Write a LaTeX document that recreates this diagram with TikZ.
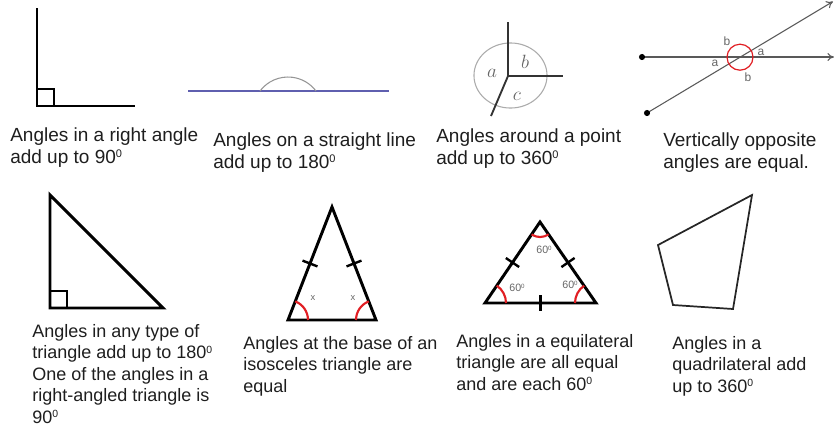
\documentclass[tikz,border=0pt]{standalone}
\usepackage{fontspec}
\setmainfont{Liberation Sans}
\usepackage{xcolor}
\usepackage{tikz}
\usetikzlibrary{arrows.meta,calc}

\definecolor{ink}{RGB}{30,30,30}
\definecolor{lineblue}{RGB}{95,95,175}
\definecolor{arcgray}{RGB}{150,150,150}
\definecolor{angred}{RGB}{225,30,35}

\newcommand{\sdeg}{\raisebox{0.3em}{\scalebox{0.58}{0}}}

\begin{document}
\begin{tikzpicture}[
  x=0.75pt, y=-0.75pt,
  txt/.style={anchor=base west, align=left, inner sep=0pt, text=ink,
              font=\fontsize{14.25}{16.3}\selectfont},
  txt low/.style={txt, font=\fontsize{13.5}{16.1}\selectfont},
  edge/.style={line width=2.2pt, black, line join=miter},
  thin edge/.style={line width=1.3pt, black!85},
  redarc/.style={line width=1.6pt, angred},
  tick/.style={line width=1.8pt, black},
  lbl/.style={inner sep=0pt, text=black!60},
  ray/.style={line width=0.8pt, black!65, -{To[length=5pt,width=6pt]}},
]
\useasboundingbox (0,0) rectangle (834,430);

% right angle
\coordinate (R0) at (37,106);
\coordinate (R1) at (37,8);
\coordinate (R2) at (135,106);
\draw[edge] (R1) -- (R0) -- (R2);
\draw[line width=1.5pt] (37,89) -| (54,106);
\node[txt] (T1) at (10,163) {Angles in a right angle\\add up to 90\sdeg};

% straight line
\coordinate (S1) at (188,91);
\coordinate (S2) at (389,91);
\draw[line width=1.5pt, lineblue] (S1) -- (S2);
\draw[arcgray, line width=0.8pt] (260,91) arc[start angle=143.1, end angle=36.9, radius=26.25pt];
\node[txt] (T2) at (213,168) {Angles on a straight line\\add up to 180\sdeg};

% around a point
\coordinate (P)  at (508,76);
\coordinate (P1) at (508,22);
\coordinate (P2) at (563,76);
\coordinate (P3) at (491,116);
\draw[arcgray!80, line width=0.8pt] (510.5,75.5) ellipse[x radius=27.4pt, y radius=24.4pt];
\draw[line width=1.4pt, black!80] (P1) -- (P) -- (P2);
\draw[line width=1.4pt, black!80] (P) -- (P3);
\node[lbl, font=\rmfamily\fontsize{14}{14}\selectfont] (La) at (492,73) {$a$};
\node[lbl, font=\rmfamily\fontsize{14}{14}\selectfont] (Lb) at (525,62) {$b$};
\node[lbl, font=\rmfamily\fontsize{14}{14}\selectfont] (Lc) at (517,96) {$c$};
\node[txt] (T3) at (436,164) {Angles around a point\\add up to 360\sdeg};

% vertically opposite
\coordinate (H1) at (642,57);
\coordinate (H2) at (834,57);
\coordinate (D1) at (647,113);
\coordinate (D2) at (833,1.5);
\draw[ray] (H1) -- (H2);
\draw[ray] (D1) -- (D2);
\fill (H1) circle[radius=2.3pt];
\fill (D1) circle[radius=2.3pt];
\draw[angred, line width=0.9pt] (740,57.2) circle[radius=9.75pt];
\node[lbl, font=\rmfamily\fontsize{9}{9}\selectfont] (Vb1) at (727,41) {b};
\node[lbl, font=\rmfamily\fontsize{9}{9}\selectfont] (Va1) at (761,52) {a};
\node[lbl, font=\rmfamily\fontsize{9}{9}\selectfont] (Va2) at (715,63) {a};
\node[lbl, font=\rmfamily\fontsize{9}{9}\selectfont] (Vb2) at (748,77) {b};
\node[txt] (T4) at (663,168) {Vertically opposite\\angles are equal.};

% right-angled triangle
\coordinate (A1) at (50,195);
\coordinate (A2) at (50,308);
\coordinate (A3) at (163,308);
\draw[edge] (A1) -- (A2) -- (A3) -- cycle;
\draw[line width=1.5pt] (50,291) -| (67,308);
\node[txt low] (T5) at (32,423) {Angles in any type of\\triangle add up to 180\sdeg\\One of the angles in a\\right-angled triangle is\\90\sdeg};

% isosceles triangle
\coordinate (I1) at (332,207);
\coordinate (I2) at (288,320);
\coordinate (I3) at (376,320);
\draw[edge] (I1) -- (I2) -- (I3) -- cycle;
\draw[tick] ($(I2)!0.5!(I1)!6pt!90:(I1)$) -- ($(I2)!0.5!(I1)!6pt!-90:(I1)$);
\draw[tick] ($(I3)!0.5!(I1)!6pt!90:(I1)$) -- ($(I3)!0.5!(I1)!6pt!-90:(I1)$);
\draw[redarc] ($(I2)+(20,0)$) arc[start angle=0, end angle=68.7, radius=15pt];
\draw[redarc] ($(I3)+(-20,0)$) arc[start angle=180, end angle=111.3, radius=15pt];
\node[lbl, font=\fontsize{7}{7}\selectfont] (X1) at (313,298) {x};
\node[lbl, font=\fontsize{7}{7}\selectfont] (X2) at (353,298) {x};
\node[txt low] (T6) at (243,392) {Angles at the base of an\\isosceles triangle are\\equal};

% equilateral triangle
\coordinate (E1) at (540,222);
\coordinate (E2) at (485,303);
\coordinate (E3) at (596,303);
\draw[edge] (E1) -- (E2) -- (E3) -- cycle;
\draw[tick] ($(E2)!0.5!(E1)!6pt!90:(E1)$) -- ($(E2)!0.5!(E1)!6pt!-90:(E1)$);
\draw[tick] ($(E3)!0.5!(E1)!6pt!90:(E1)$) -- ($(E3)!0.5!(E1)!6pt!-90:(E1)$);
\draw[tick] ($(E2)!0.5!(E3)!6pt!90:(E3)$) -- ($(E2)!0.5!(E3)!6pt!-90:(E3)$);
\draw[redarc] ($(E2)+(21,0)$) arc[start angle=0, end angle=55.8, radius=15.75pt];
\draw[redarc] ($(E3)+(-21,0)$) arc[start angle=180, end angle=124.7, radius=15.75pt];
\draw[redarc] ($(E1)!11.25pt!(E2)$) arc[start angle=235.8, end angle=304.7, radius=11.25pt];
\node[lbl, font=\fontsize{8}{8}\selectfont] (G1) at (544,250) {60\sdeg};
\node[lbl, font=\fontsize{8}{8}\selectfont] (G2) at (517,288) {60\sdeg};
\node[lbl, font=\fontsize{8}{8}\selectfont] (G3) at (570,285) {60\sdeg};
\node[txt low] (T7) at (456,390) {Angles in a equilateral\\triangle are all equal\\and are each 60\sdeg};

% quadrilateral
\coordinate (Q1) at (752,195);
\coordinate (Q2) at (658,245);
\coordinate (Q3) at (673,305);
\coordinate (Q4) at (733,309);
\draw[thin edge] (Q1) -- (Q2) -- (Q3) -- (Q4) -- cycle;
\node[txt low] (T8) at (672,392) {Angles in a\\quadrilateral add\\up to 360\sdeg};
\end{tikzpicture}
\end{document}
